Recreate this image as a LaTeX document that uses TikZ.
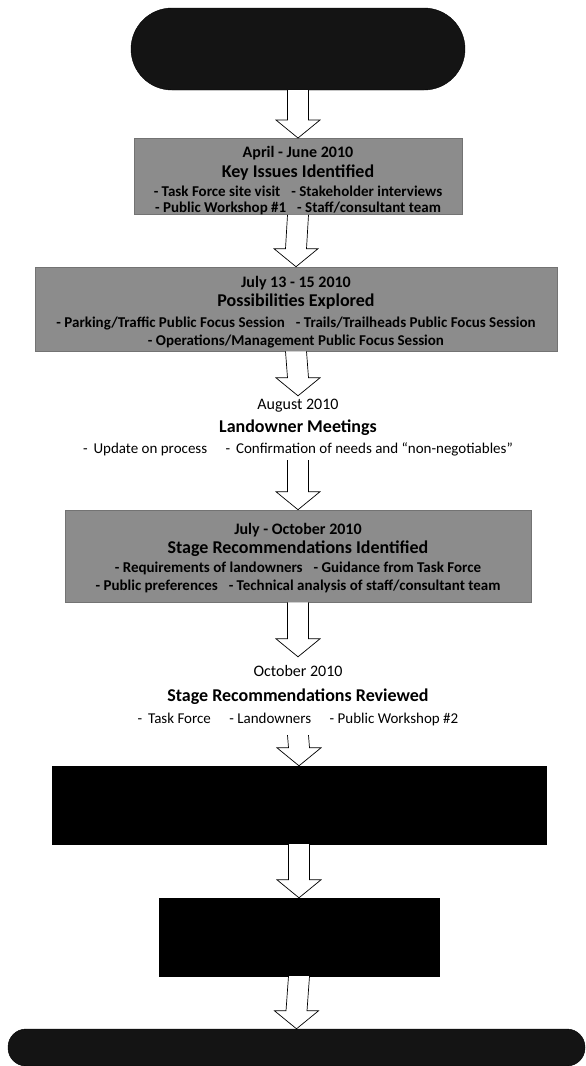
\documentclass[tikz,border=0pt]{standalone}
\usepackage{fontspec}
\setmainfont{Carlito}
\usetikzlibrary{calc}
\newcommand\mydate{\fontsize{16}{19}\selectfont}
\newcommand\mytitle{\fontsize{18}{21}\selectfont\bfseries}
\newcommand\mybul{\fontsize{15}{17}\selectfont}
\newcommand\mybulg{\fontsize{15}{17}\selectfont\bfseries}
\tikzset{
  graybox/.style={draw=black!55, fill=black!45, line width=0.6pt, align=center, inner sep=0pt, text=black},
  blackbox/.style={draw=black, fill=black, inner sep=0pt},
  ovalbox/.style={draw=black, fill=black!92, rounded corners=#1, inner sep=0pt},
  txtgroup/.style={align=center, inner sep=0pt},
  barrow/.style={draw=black, fill=white, line width=0.7pt, line join=miter}
}
\newcommand\blockarrow[2]{%
  \draw[barrow] ($(#1.south)+(-10.5,0)$) -- ($(#2.north)+(-10.5,18)$) -- ($(#2.north)+(-22,18)$) -- (#2.north)
    -- ($(#2.north)+(22,18)$) -- ($(#2.north)+(10.5,18)$) -- ($(#1.south)+(10.5,0)$);}
\begin{document}
\begin{tikzpicture}[x=1pt,y=1pt]
\useasboundingbox (0,0) rectangle (586,-1066);
% top oval
\node[ovalbox=41pt, minimum width=334pt, minimum height=82pt] (o1) at (298,-49) {};
% box 2
\node[graybox, font=\fontsize{15}{16}\selectfont, minimum width=328pt, minimum height=73pt] (b2) at (298,-176.5)
  {\rule{0pt}{19pt}{\mydate\bfseries April - June 2010}\\[4pt]
   {\mytitle Key Issues Identified}\\[3pt]
   {\mybulg - Task Force site visit \enspace - Stakeholder interviews}\\
   {\mybulg - Public Workshop \#1 \enspace - Staff/consultant team}};
% box 3
\node[graybox, font=\fontsize{15}{18}\selectfont, minimum width=522pt, minimum height=84pt] (b3) at (296,-309)
  {\rule{0pt}{17pt}{\mydate\bfseries July 13 - 15 2010}\\[1pt]
   {\mytitle Possibilities Explored}\\[3pt]
   {\mybulg - Parking/Traffic Public Focus Session \enspace - Trails/Trailheads Public Focus Session}\\
   {\mybulg - Operations/Management Public Focus Session}};
% August group
\node[txtgroup, font=\fontsize{15}{21}\selectfont, minimum width=440pt, minimum height=64pt] (g4) at (298,-428)
  {{\mydate August 2010}\\[2pt]
   {\mytitle Landowner Meetings}\\
   {\mybul - \,Update on process \quad - \,Confirmation of needs and “non-negotiables”}};
% box 5
\node[graybox, font=\fontsize{15}{18}\selectfont, minimum width=466pt, minimum height=92pt] (b5) at (298,-556)
  {\rule{0pt}{16pt}{\mydate\bfseries July - October 2010}\\[1pt]
   {\mytitle Stage Recommendations Identified}\\[1pt]
   {\mybulg - Requirements of landowners \enspace - Guidance from Task Force}\\
   {\mybulg - Public preferences \enspace - Technical analysis of staff/consultant team}};
% October group
\node[txtgroup, font=\fontsize{15}{22}\selectfont, minimum width=330pt, minimum height=78pt] (g6) at (298,-696)
  {{\mydate October 2010}\\[3pt]
   {\mytitle Stage Recommendations Reviewed}\\
   {\mybul - \,Task Force \quad - Landowners \quad - Public Workshop \#2}};
% black boxes
\node[blackbox, minimum width=494pt, minimum height=78pt] (b7) at (299,-805) {};
\node[blackbox, minimum width=280pt, minimum height=78pt] (b8) at (299,-937) {};
% bottom oval
\node[ovalbox=18pt, minimum width=577pt, minimum height=37pt] (o9) at (296.5,-1047.5) {};
% arrows
\blockarrow{o1}{b2}
\blockarrow{b2}{b3}
\blockarrow{b3}{g4}
\blockarrow{g4}{b5}
\blockarrow{b5}{g6}
\blockarrow{g6}{b7}
\blockarrow{b7}{b8}
\blockarrow{b8}{o9}
\end{tikzpicture}
\end{document}
